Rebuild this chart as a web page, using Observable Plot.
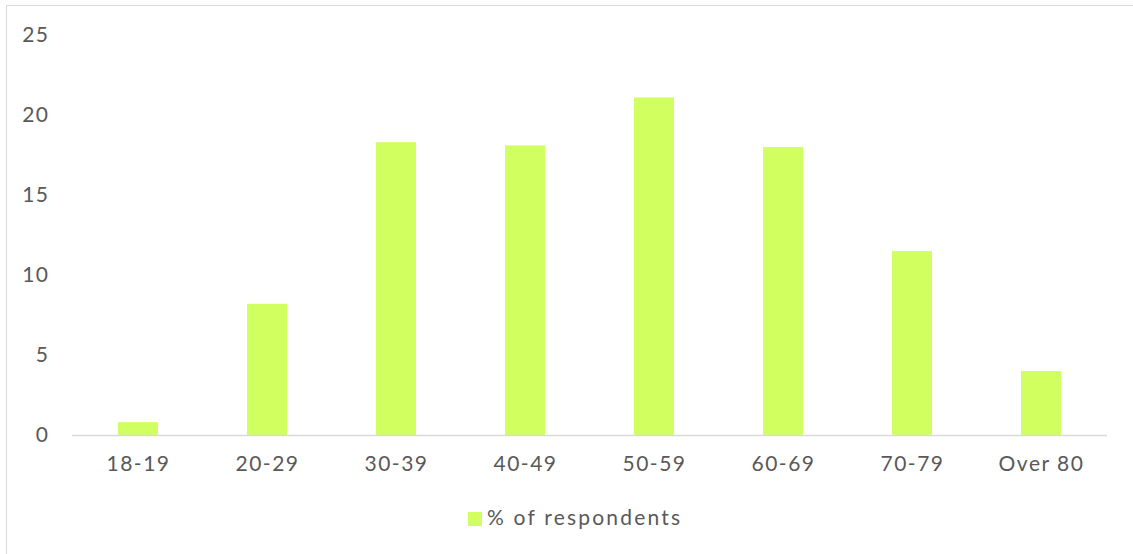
<!DOCTYPE html>
<html>
<head>
<meta charset="utf-8">
<script src="https://cdn.jsdelivr.net/npm/d3@7"></script>
<script src="https://cdn.jsdelivr.net/npm/@observablehq/plot@0.6"></script>
<style>
  html, body { margin: 0; padding: 0; background: #fff; overflow: hidden; }
  #wrap { position: relative; width: 1133px; height: 554px; font-family: "Lato", sans-serif; }
  #frame { position: absolute; left: 6px; top: 5px; width: 1200px; height: 600px; border-left: 1.5px solid #d9d9d9; border-top: 1.5px solid #d9d9d9; box-sizing: border-box; }
  #chart { position: absolute; left: 0; top: 0; }
  #chart svg text { letter-spacing: 1.5px; }
  #legend { position: absolute; left: 468px; top: 504px; font-size: 21px; color: #595959; letter-spacing: 2.2px; white-space: nowrap; }
  #legend .sw { display: inline-block; width: 14px; height: 14px; background: #d0ff60; margin-right: 5px; vertical-align: -1px; }
</style>
</head>
<body>
<div id="wrap">
  <div id="frame"></div>
  <div id="chart"></div>
  <div id="legend"><span class="sw"></span>% of respondents</div>
</div>
<script>
const ageGroups = ["18-19", "20-29", "30-39", "40-49", "50-59", "60-69", "70-79", "Over 80"];
const percentRespondents = [0.8, 8.2, 18.3, 18.1, 21.1, 18.0, 11.5, 4.0];
const yTicks = [0, 5, 10, 15, 20, 25];
const seriesName = "% of respondents";

const data = ageGroups.map((g, i) => ({ group: g, value: percentRespondents[i] }));

const chart = Plot.plot({
  width: 1133,
  height: 490,
  marginTop: 35,
  marginBottom: 55,
  marginLeft: 72,
  marginRight: 26,
  style: { fontFamily: "Lato, sans-serif", fontSize: "21px", color: "#595959", background: "transparent" },
  x: { domain: ageGroups, paddingInner: 0.69, paddingOuter: 0.345, label: null, tickSize: 0, tickPadding: 21 },
  y: { domain: [0, 25], ticks: yTicks, label: null, tickSize: 0, tickPadding: 23 },
  marks: [
    Plot.barY(data, { x: "group", y: "value", fill: "#d0ff60", title: d => `${seriesName}: ${d.value}` }),
    Plot.ruleY([0], { stroke: "#d9d9d9", strokeWidth: 1.5 })
  ]
});
document.getElementById("chart").appendChild(chart);
</script>
</body>
</html>
